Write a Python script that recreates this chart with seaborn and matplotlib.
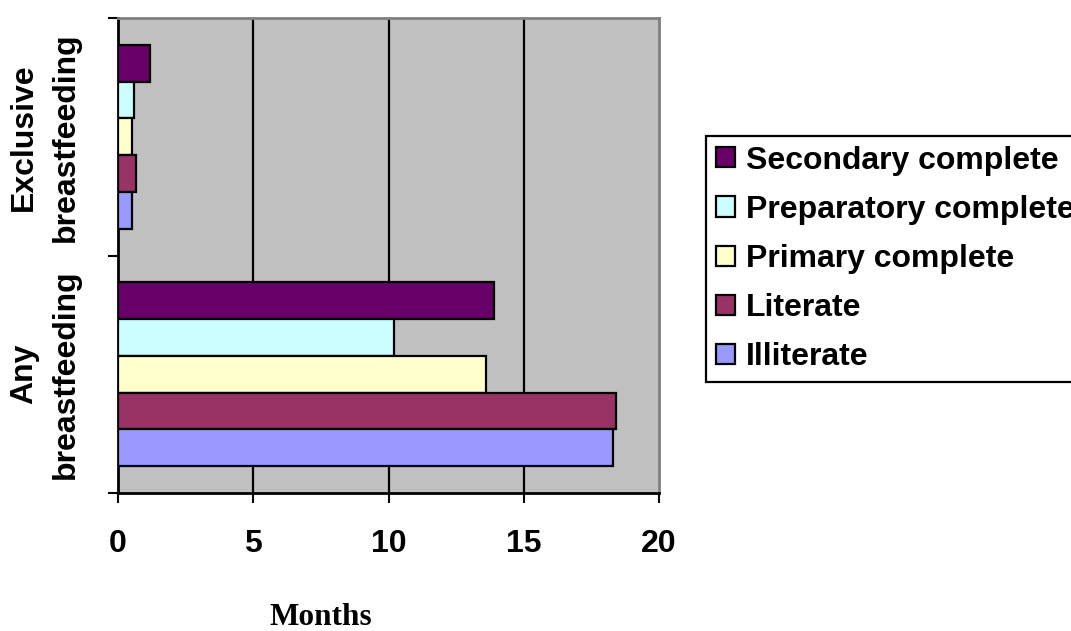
import matplotlib
matplotlib.use("Agg")
import matplotlib.pyplot as plt
import seaborn as sns
import pandas as pd

# Duration of breastfeeding (months) by maternal education
feeding_types = ["Exclusive\nbreastfeeding", "Any\nbreastfeeding"]
education = ["Secondary complete", "Preparatory complete", "Primary complete",
             "Literate", "Illiterate"]
exclusive_months = [1.2, 0.6, 0.5, 0.65, 0.5]
any_months = [13.9, 10.2, 13.6, 18.4, 18.3]
x_ticks = [0, 5, 10, 15, 20]

palette = {
    "Secondary complete": "#660066",
    "Preparatory complete": "#CCFFFF",
    "Primary complete": "#FFFFCC",
    "Literate": "#993366",
    "Illiterate": "#9999FF",
}

rows = []
for ftype, values in zip(feeding_types, [exclusive_months, any_months]):
    for edu, v in zip(education, values):
        rows.append({"type": ftype, "education": edu, "months": v})
df = pd.DataFrame(rows)

sns.set_style("ticks")
plt.rcParams["font.family"] = ["Liberation Sans", "DejaVu Sans"]
plt.rcParams["font.weight"] = "bold"
for key in ["text.color", "axes.labelcolor", "xtick.color", "ytick.color"]:
    plt.rcParams[key] = "black"

fig = plt.figure(figsize=(10.71, 6.31), dpi=100)
ax = fig.add_axes([118 / 1071, 1 - 493 / 631, 541 / 1071, 475 / 631])
ax.set_facecolor("#C0C0C0")

sns.barplot(
    data=df, y="type", x="months", hue="education",
    order=feeding_types, hue_order=education, palette=palette,
    orient="h", width=0.775, gap=0, saturation=1,
    edgecolor="black", linewidth=1.6, errorbar=None, ax=ax, zorder=3,
)

ax.set_xlim(0, 20)
ax.set_ylim(1.5, -0.5)
ax.set_xticks(x_ticks)
ax.set_xticklabels([str(t) for t in x_ticks], fontsize=23, fontweight="bold")
for v in x_ticks[1:-1]:
    ax.axvline(v, color="black", lw=1.6, zorder=1)

ax.set_yticks([0, 1])
ax.set_yticklabels(feeding_types, rotation=90, va="center", ha="right",
                   multialignment="center", fontsize=23, fontweight="bold",
                   linespacing=1.5)
ax.set_yticks([-0.5, 0.5, 1.5], minor=True)
ax.tick_params(axis="y", which="major", length=0, pad=27)
ax.tick_params(axis="y", which="minor", length=7, width=1.5, color="black")
ax.tick_params(axis="x", which="major", length=7, width=1.5, color="black", pad=19)

for side in ["left", "bottom"]:
    ax.spines[side].set_color("black")
    ax.spines[side].set_linewidth(2)
for side in ["top", "right"]:
    ax.spines[side].set_color("#808080")
    ax.spines[side].set_linewidth(2)
    ax.spines[side].set_visible(True)

ax.set_ylabel("")
ax.set_xlabel("Months", fontsize=22.5, fontweight="bold",
              fontfamily=["Liberation Serif", "DejaVu Serif"])
ax.xaxis.set_label_coords((321 - 118) / 541, (493 - 603) / 475)
ax.xaxis.label.set_va("top")

handles, labels = ax.get_legend_handles_labels()
ax.get_legend().remove()
leg = fig.legend(
    handles, labels, loc="upper left",
    bbox_to_anchor=(706 / 1071, 1 - 136 / 631), bbox_transform=fig.transFigure,
    frameon=True, fancybox=False, framealpha=1, edgecolor="black",
    prop={"size": 23, "weight": "bold"}, handlelength=0.6, handleheight=0.6,
    handletextpad=0.35, labelspacing=0.6, borderpad=0.3, borderaxespad=0,
)
leg.get_frame().set_linewidth(1.6)

fig.savefig("out.png", dpi=100)
